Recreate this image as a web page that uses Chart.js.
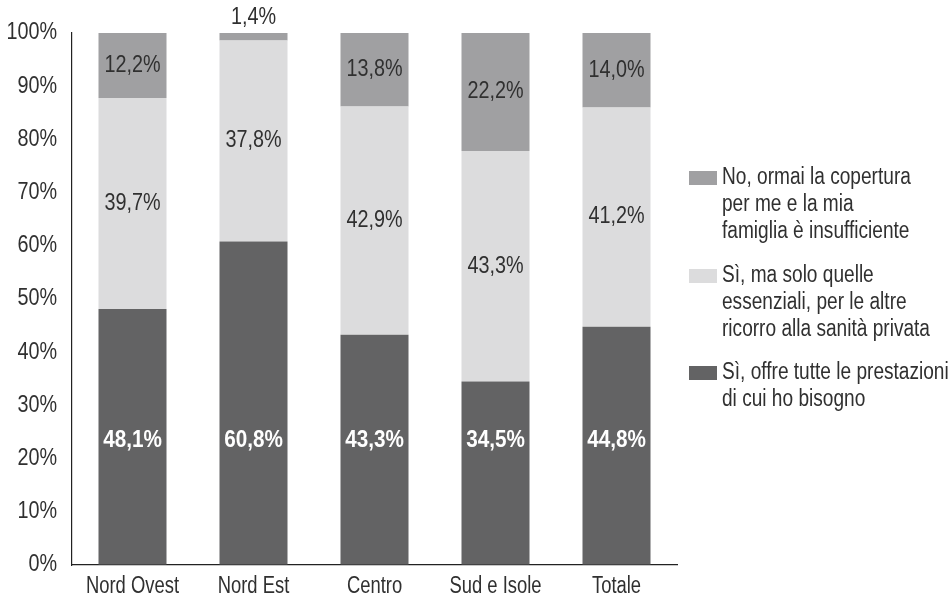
<!DOCTYPE html>
<html>
<head>
<meta charset="utf-8">
<script src="https://cdn.jsdelivr.net/npm/chart.js@4/dist/chart.umd.min.js"></script>
<style>
  html, body { margin: 0; padding: 0; background: #ffffff; }
  #wrap { width: 952px; height: 596px; position: relative; }
</style>
</head>
<body>
<div id="wrap"><canvas id="c" width="952" height="596"></canvas></div>
<script>
const categories = ['Nord Ovest', 'Nord Est', 'Centro', 'Sud e Isole', 'Totale'];
const seriesTutte = [48.1, 60.8, 43.3, 34.5, 44.8];
const seriesEssenziali = [39.7, 37.8, 42.9, 43.3, 41.2];
const seriesInsufficiente = [12.2, 1.4, 13.8, 22.2, 14.0];
const seriesNames = [
  ['Sì, offre tutte le prestazioni', 'di cui ho bisogno'],
  ['Sì, ma solo quelle', 'essenziali, per le altre', 'ricorro alla sanità privata'],
  ['No, ormai la copertura', 'per me e la mia', 'famiglia è insufficiente']
];
const yTickValues = [0, 10, 20, 30, 40, 50, 60, 70, 80, 90, 100];

const FONT = '"Liberation Sans", Arial, sans-serif';
const FS = 23;
const SX_NUM = 0.86;   // horizontal condensing to mimic a narrow typeface
const SX_CAT = 0.80;
const SX_LEG = 0.83;
const COLORS = ['#636364', '#dcdcdd', '#a0a0a2'];
const TEXT = '#303030';

const fmt = v => v.toFixed(1).replace('.', ',') + '%';
const pct = v => v + '%';

function narrowText(ctx, text, x, y, align, font, color, sx) {
  ctx.save();
  ctx.translate(x, y);
  ctx.scale(sx, 1);
  ctx.font = font;
  ctx.fillStyle = color;
  ctx.textAlign = align;
  ctx.textBaseline = 'middle';
  ctx.fillText(text, 0, 0);
  ctx.restore();
}

const axisTextPlugin = {
  id: 'axisText',
  afterDraw(chart) {
    const ctx = chart.ctx;
    const ys = chart.scales.y, xs = chart.scales.x;
    ys.ticks.forEach(t => {
      narrowText(ctx, pct(t.value), ys.right - 15, ys.getPixelForValue(t.value), 'right', FS + 'px ' + FONT, TEXT, SX_NUM);
    });
    xs.ticks.forEach((t, i) => {
      narrowText(ctx, categories[i], xs.getPixelForTick(i), xs.top + 22, 'center', FS + 'px ' + FONT, TEXT, SX_CAT);
    });
  }
};

const labelPlugin = {
  id: 'barLabels',
  afterDatasetsDraw(chart) {
    const ctx = chart.ctx;
    const yScale = chart.scales.y;
    chart.data.datasets.forEach((ds, di) => {
      const meta = chart.getDatasetMeta(di);
      meta.data.forEach((bar, i) => {
        const v = ds.data[i];
        const p = bar.getProps(['x', 'y', 'base'], true);
        if (di === 0) {
          narrowText(ctx, fmt(v), p.x, yScale.getPixelForValue(23.3), 'center', 'bold 23px ' + FONT, '#ffffff', 0.9);
        } else if (v < 5) {
          narrowText(ctx, fmt(v), p.x, p.y - 15, 'center', FS + 'px ' + FONT, TEXT, SX_NUM);
        } else {
          narrowText(ctx, fmt(v), p.x, (p.y + p.base) / 2, 'center', FS + 'px ' + FONT, TEXT, SX_NUM);
        }
      });
    });
  }
};

const legendPlugin = {
  id: 'sideLegend',
  afterDraw(chart) {
    const ctx = chart.ctx;
    const order = [2, 1, 0];
    const starts = [178, 276, 373];
    const pitch = 27;
    order.forEach((di, k) => {
      const y0 = starts[k];
      ctx.save();
      ctx.fillStyle = COLORS[di];
      ctx.fillRect(689, y0 - 7, 28, 14);
      ctx.restore();
      seriesNames[di].forEach((line, j) => {
        narrowText(ctx, line, 722, y0 + j * pitch, 'left', FS + 'px ' + FONT, TEXT, SX_LEG);
      });
    });
  }
};

new Chart(document.getElementById('c'), {
  type: 'bar',
  data: {
    labels: categories,
    datasets: [
      { label: seriesNames[0].join(' '), data: seriesTutte, backgroundColor: COLORS[0] },
      { label: seriesNames[1].join(' '), data: seriesEssenziali, backgroundColor: COLORS[1] },
      { label: seriesNames[2].join(' '), data: seriesInsufficiente, backgroundColor: COLORS[2] }
    ]
  },
  options: {
    responsive: false,
    animation: false,
    devicePixelRatio: 1,
    layout: { padding: { top: 33, right: 275, left: 0, bottom: 0 } },
    datasets: { bar: { categoryPercentage: 1.0, barPercentage: 0.562, borderWidth: 0 } },
    plugins: { legend: { display: false }, tooltip: { enabled: false } },
    scales: {
      x: {
        stacked: true,
        grid: { display: true, drawOnChartArea: false, drawTicks: false, color: 'rgba(0,0,0,0)' },
        border: { display: true, color: '#222222', width: 1.2 },
        ticks: { display: false },
        afterFit(s) { s.height = 31; }
      },
      y: {
        stacked: true,
        min: 0,
        max: 100,
        grid: { display: true, drawOnChartArea: false, drawTicks: false, color: 'rgba(0,0,0,0)' },
        border: { display: true, color: '#222222', width: 1.2 },
        afterBuildTicks(s) { s.ticks = yTickValues.map(v => ({ value: v })); },
        ticks: { display: false },
        afterFit(s) { s.width = 72; }
      }
    }
  },
  plugins: [labelPlugin, legendPlugin, axisTextPlugin]
});
</script>
</body>
</html>
